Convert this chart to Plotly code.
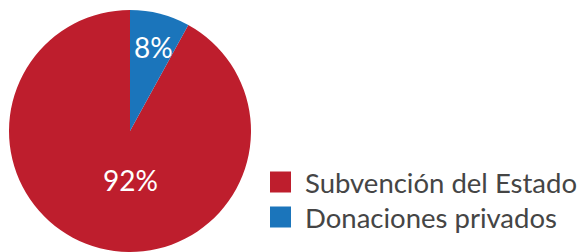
import plotly.graph_objects as go

labels = ["Subvención del Estado", "Donaciones privados"]
values = [92, 8]
colors = ["#BE1E2D", "#1B75BB"]

W, H = 581, 252
cx, cy, R = 130, 132, 122
ytop = max(cy - R, 0)

fig = go.Figure()
fig.add_trace(go.Pie(
    labels=labels, values=values, sort=False, direction="clockwise",
    rotation=360 * values[1] / sum(values),
    marker=dict(colors=colors, line=dict(width=0)),
    textinfo="none",
    domain=dict(x=[(cx - R) / W, (cx + R) / W], y=[0, 1 - ytop / H]),
    showlegend=False, hoverinfo="label+percent",
))

total = sum(values)
label_pos = [(130, 180), (153, 47)]
for v, (px, py) in zip(values, label_pos):
    fig.add_annotation(xref="paper", yref="paper", x=px / W, y=1 - py / H,
                       xanchor="center", yanchor="middle", showarrow=False,
                       text=f"{round(100 * v / total)}%",
                       font=dict(family="Lato", size=28, color="white"))

# manual legend with larger swatches
leg_y = [182, 217]
for lab, col, yc in zip(labels, colors, leg_y):
    fig.add_shape(type="rect", xref="paper", yref="paper",
                  x0=270 / W, x1=291 / W,
                  y0=1 - (yc + 10.5) / H, y1=1 - (yc - 10.5) / H,
                  fillcolor=col, line=dict(width=0))
    fig.add_annotation(xref="paper", yref="paper", x=303 / W, y=1 - yc / H,
                       xanchor="left", yanchor="middle", text=lab, showarrow=False,
                       font=dict(family="Lato", size=27.5, color="#454545"))

fig.update_layout(width=W, height=H, margin=dict(l=0, r=0, t=0, b=0),
                  paper_bgcolor="white", plot_bgcolor="white")
fig.write_html("out.html", config={"displayModeBar": False},
               post_script="document.body.style.margin='0';document.body.style.overflow='hidden';")
